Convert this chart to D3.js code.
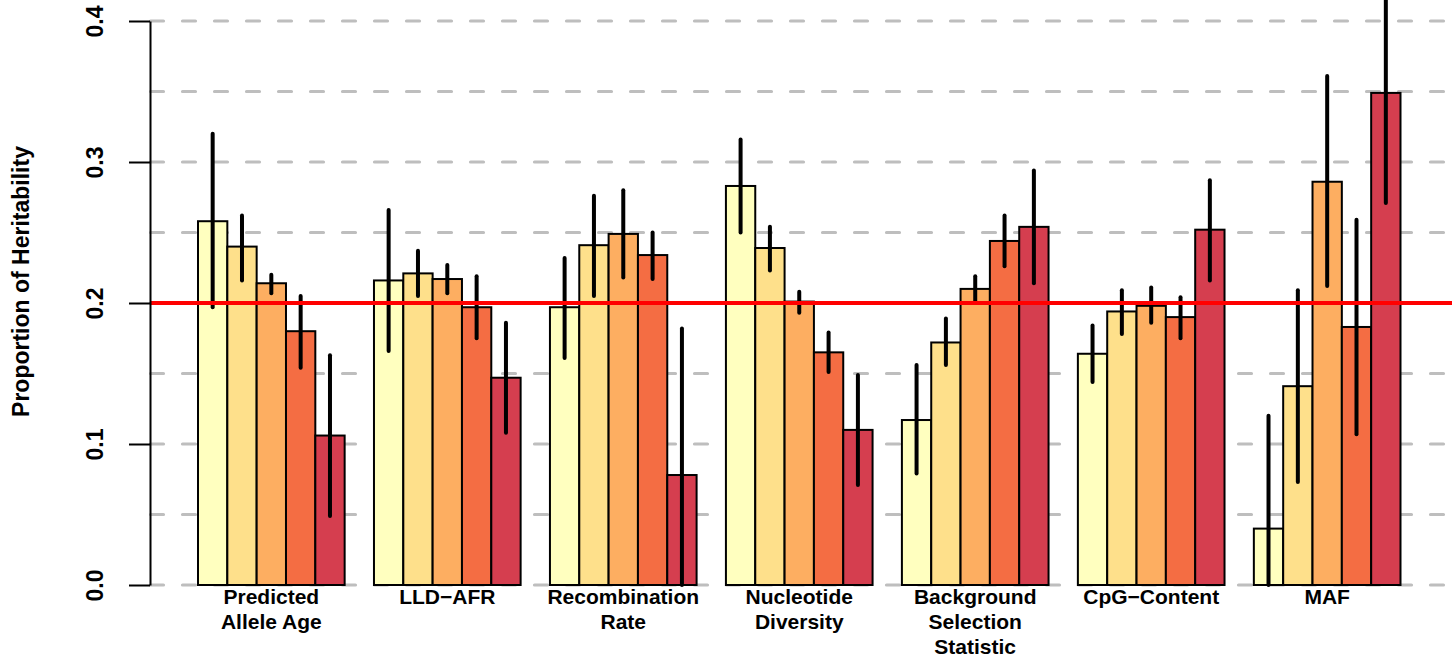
<!DOCTYPE html>
<html>
<head>
<meta charset="utf-8">
<script src="https://cdn.jsdelivr.net/npm/d3@7"></script>
<style>
  html, body { margin: 0; padding: 0; background: #ffffff; }
  svg { display: block; }
  text { font-family: "Liberation Sans", Arial, Helvetica, sans-serif; font-weight: bold; fill: #000; }
</style>
</head>
<body>
<script>
// ---------------- data ----------------
const categories = [
  "Predicted\nAllele Age",
  "LLD\u2212AFR",
  "Recombination\nRate",
  "Nucleotide\nDiversity",
  "Background\nSelection\nStatistic",
  "CpG\u2212Content",
  "MAF"
];
const bins = ["Q1", "Q2", "Q3", "Q4", "Q5"];
const binColors = ["#FFFFBF", "#FEE08B", "#FDAE61", "#F46D43", "#D53E4F"];

// estimates per category (5 bins each)
const estimate = [
  [0.258, 0.240, 0.214, 0.180, 0.106],
  [0.216, 0.221, 0.217, 0.197, 0.147],
  [0.197, 0.241, 0.249, 0.234, 0.078],
  [0.283, 0.239, 0.201, 0.165, 0.110],
  [0.117, 0.172, 0.210, 0.244, 0.254],
  [0.164, 0.194, 0.198, 0.190, 0.252],
  [0.040, 0.141, 0.286, 0.183, 0.349]
];
const lower = [
  [0.197, 0.216, 0.207, 0.154, 0.049],
  [0.166, 0.205, 0.207, 0.175, 0.108],
  [0.161, 0.205, 0.218, 0.217, 0.000],
  [0.250, 0.223, 0.193, 0.151, 0.071],
  [0.079, 0.156, 0.201, 0.226, 0.214],
  [0.144, 0.178, 0.186, 0.175, 0.216],
  [0.000, 0.073, 0.212, 0.107, 0.271]
];
const upper = [
  [0.320, 0.262, 0.220, 0.205, 0.163],
  [0.266, 0.237, 0.227, 0.219, 0.186],
  [0.232, 0.276, 0.280, 0.250, 0.182],
  [0.316, 0.254, 0.208, 0.179, 0.149],
  [0.156, 0.189, 0.219, 0.262, 0.294],
  [0.184, 0.209, 0.211, 0.204, 0.287],
  [0.120, 0.209, 0.361, 0.259, 0.430]
];
const yTicks = [0.0, 0.1, 0.2, 0.3, 0.4];
const gridValues = [0, 0.05, 0.1, 0.15, 0.2, 0.25, 0.3, 0.35, 0.4];
const referenceValue = 0.2;
const yTitle = "Proportion of Heritability";

// ---------------- chart ----------------
const W = 1452, H = 662;
const svg = d3.select("body").append("svg").attr("width", W).attr("height", H);
svg.append("rect").attr("width", W).attr("height", H).attr("fill", "#fff");

const axisX = 150;
const y = d3.scaleLinear().domain([0, 0.4]).range([585, 21]);
const x0 = d3.scaleBand().domain(categories).range([198, 1400.5]).paddingInner(1/6).paddingOuter(0);
const x1 = d3.scaleBand().domain(bins).range([0, x0.bandwidth()]).padding(0);
const color = d3.scaleOrdinal().domain(bins).range(binColors);

// grid
svg.append("g").selectAll("line").data(gridValues).join("line")
  .attr("x1", axisX - 1).attr("x2", W)
  .attr("y1", d => y(d)).attr("y2", d => y(d))
  .attr("stroke", "#BEBEBE").attr("stroke-width", 3.2)
  .attr("stroke-dasharray", "13,19").attr("stroke-linecap", "round")
  .attr("stroke-dashoffset", -1.5);

// rows
const rows = categories.map((c, i) => bins.map((b, j) => ({
  cat: c, bin: b, v: estimate[i][j], lo: lower[i][j], hi: upper[i][j]
})));

const groups = svg.append("g").selectAll("g").data(rows).join("g")
  .attr("transform", (d, i) => `translate(${x0(categories[i])},0)`);

groups.selectAll("rect").data(d => d).join("rect")
  .attr("x", d => x1(d.bin))
  .attr("width", x1.bandwidth())
  .attr("y", d => y(d.v))
  .attr("height", d => y(0) - y(d.v))
  .attr("fill", d => color(d.bin))
  .attr("stroke", "#000").attr("stroke-width", 2);

// reference line
svg.append("line")
  .attr("x1", axisX).attr("x2", W)
  .attr("y1", y(referenceValue)).attr("y2", y(referenceValue))
  .attr("stroke", "#FF0000").attr("stroke-width", 3.8);

// error bars
groups.selectAll("line.err").data(d => d).join("line")
  .attr("class", "err")
  .attr("x1", d => x1(d.bin) + x1.bandwidth() / 2)
  .attr("x2", d => x1(d.bin) + x1.bandwidth() / 2)
  .attr("y1", d => y(d.lo)).attr("y2", d => y(d.hi))
  .attr("stroke", "#000").attr("stroke-width", 4).attr("stroke-linecap", "round");

// y axis
const yAxis = d3.axisLeft(y).tickValues(yTicks).tickFormat(d3.format(".1f"))
  .tickSize(21).tickSizeOuter(0);
const ga = svg.append("g").attr("transform", `translate(${axisX},0)`).call(yAxis);
ga.select(".domain").attr("stroke", "#000").attr("stroke-width", 2);
ga.selectAll(".tick line").attr("stroke", "#000").attr("stroke-width", 2);
ga.selectAll(".tick text")
  .attr("transform", "rotate(-90)")
  .attr("x", 0).attr("y", -47).attr("dy", null)
  .attr("text-anchor", "middle")
  .style("font-size", "23px").style("font-weight", "bold")
  .style("font-family", "'Liberation Sans', Arial, sans-serif")
  .attr("fill", "#000");

// y title
svg.append("text")
  .attr("transform", "translate(29,281.5) rotate(-90)")
  .attr("text-anchor", "middle")
  .style("font-size", "23px")
  .text(yTitle);

// category labels
const labels = svg.append("g").selectAll("text").data(categories).join("text")
  .attr("text-anchor", "middle")
  .style("font-size", "21px")
  .attr("x", d => x0(d) + x0.bandwidth() / 2)
  .attr("y", 604);
labels.each(function(d) {
  const t = d3.select(this);
  d.split("\n").forEach((line, k) => {
    t.append("tspan").attr("x", x0(d) + x0.bandwidth() / 2).attr("y", 604 + 25 * k).text(line);
  });
});
</script>
</body>
</html>
